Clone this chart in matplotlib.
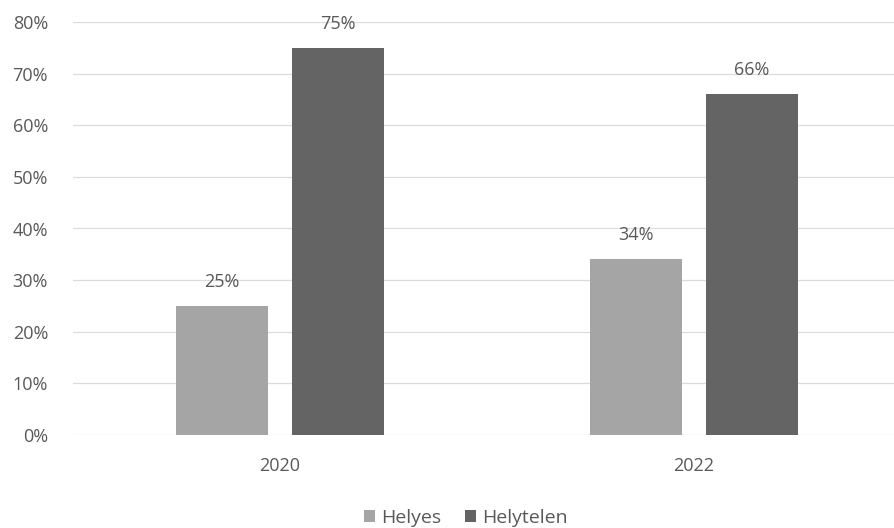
import matplotlib.pyplot as plt
from matplotlib.ticker import PercentFormatter

plt.rcParams['font.family'] = ['Open Sans', 'DejaVu Sans']

# Data
years = ["2020", "2022"]
helyes = [25, 34]
helytelen = [75, 66]
series_names = ["Helyes", "Helytelen"]

# Colors
color_light = "#A5A5A5"
color_dark = "#646464"
text_color = "#595959"

fig = plt.figure(figsize=(8.94, 5.28), dpi=100)
ax = fig.add_axes([73 / 894, 1 - 435 / 528, 828 / 894, (435 - 22) / 528])

x = list(range(len(years)))
w = 0.222
off = 0.14
bars1 = ax.bar([i - off for i in x], helyes, width=w, color=color_light, label=series_names[0], zorder=3)
bars2 = ax.bar([i + off for i in x], helytelen, width=w, color=color_dark, label=series_names[1], zorder=3)

# Value labels above bars
for bars in (bars1, bars2):
    for bar in bars:
        h = bar.get_height()
        ax.annotate(f"{int(h)}%", (bar.get_x() + bar.get_width() / 2, h),
                    xytext=(0, 11), textcoords="offset points",
                    ha='center', va='bottom', fontsize=13, color=text_color)

ax.set_xlim(-0.5, 1.5)
ax.set_ylim(0, 80)
ax.set_yticks(range(0, 81, 10))
ax.yaxis.set_major_formatter(PercentFormatter(decimals=0))
ax.set_xticks(x)
ax.set_xticklabels(years)
ax.tick_params(axis='both', length=0, labelsize=13, colors=text_color)
ax.tick_params(axis='x', pad=16)
ax.tick_params(axis='y', pad=18)
ax.grid(axis='y', color="#DCDCDC", linewidth=0.9, zorder=0)
for s in ax.spines.values():
    s.set_visible(False)

fig.legend(loc='center', bbox_to_anchor=(0.521, 1 - 518 / 528), ncol=2, frameon=False,
           fontsize=14, labelcolor=text_color, handlelength=0.6, handleheight=0.6,
           handletextpad=0.3, columnspacing=1.2, borderpad=0)

plt.savefig("out.png", dpi=100)
